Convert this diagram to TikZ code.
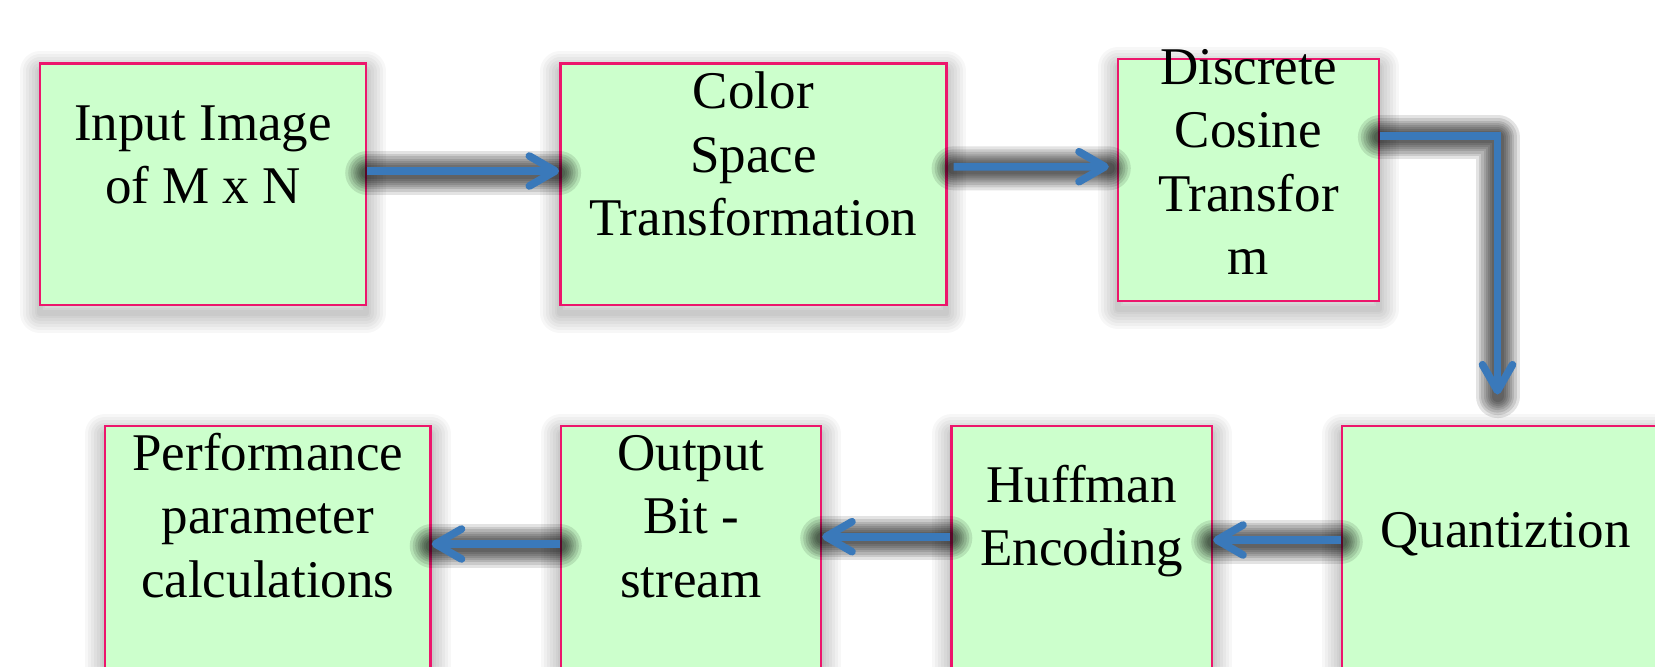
\documentclass[tikz,border=0pt]{standalone}
\usepackage{fontspec}
\setmainfont{Liberation Serif}
\usetikzlibrary{arrows.meta,calc}
\definecolor{boxfill}{RGB}{204,255,204}
\definecolor{boxline}{RGB}{236,22,108}
\definecolor{arrblue}{RGB}{58,121,186}
\tikzset{
  bsh/.style={preaction={draw=black, line width=#1, draw opacity=0.03,
    line join=round, transform canvas={yshift=-4pt}}},
  box/.style={draw=boxline, line width=1.2pt, fill=boxfill, inner sep=0pt,
    bsh=20pt, bsh=17pt, bsh=14pt, bsh=11pt, bsh=8pt, bsh=5pt, bsh=3pt},
  lbl/.style={anchor=north, inner sep=0pt, align=center,
    font=\fontsize{26.5pt}{31.75pt}\selectfont},
  shd/.style={preaction={draw=black, -, line width=#1, draw opacity=0.11,
    line cap=round, line join=round, transform canvas={yshift=-0.8pt}}},
  arr/.style={draw=arrblue, line width=3.8pt,
    -{Straight Barb[length=13pt,width=15pt,line cap=round,line join=round]},
    shd=22pt, shd=19pt, shd=16.5pt, shd=14pt, shd=12pt, shd=10pt, shd=8pt, shd=6pt}
}
\begin{document}
\begin{tikzpicture}[x=0.5pt,y=-0.5pt]
\useasboundingbox (0,0) rectangle (1655,666);
\clip (0,0) rectangle (1655,666);
\fill[white] (0,0) rectangle (1655,666);
% boxes
\node[box, minimum width=163pt,    minimum height=120.85pt] (b1) at (203,184.2) {};
\node[box, minimum width=193.05pt, minimum height=120.85pt] (b2) at (753.35,184.2) {};
\node[box, minimum width=130.35pt, minimum height=121pt]    (b3) at (1248.35,180) {};
\node[box, minimum width=163.5pt,  minimum height=125pt]    (b4) at (1505.5,550.7) {};
\node[box, minimum width=130.25pt, minimum height=125pt]    (b5) at (1081.75,550.7) {};
\node[box, minimum width=130pt,    minimum height=125pt]    (b6) at (691,550.7) {};
\node[box, minimum width=162.75pt, minimum height=125pt]    (b7) at (267.75,550.7) {};
% labels
\node[lbl] (t1) at (203,100)      {\rule{0pt}{20pt}Input Image\\of M x N};
\node[lbl] (t2) at (753.35,68.3)  {\rule{0pt}{20pt}Color\\Space\\Transformation};
\node[lbl] (t3) at (1248.35,44)   {\rule{0pt}{20pt}Discrete\\Cosine\\Transfor\\m};
\node[lbl] (t4) at (1505.5,506.7) {\rule{0pt}{20pt}Quantiztion};
\node[lbl] (t5) at (1081.75,461.7){\rule{0pt}{20pt}Huffman\\Encoding};
\node[lbl] (t6) at (691,430)      {\rule{0pt}{20pt}Output\\Bit -\\stream};
\node[lbl] (t7) at (267.75,430)   {\rule{0pt}{20pt}Performance\\parameter\\calculations};
% connectors
\draw[arr] ([yshift=6.6pt]b1.east) -- ([yshift=6.6pt]b2.west);
\draw[arr] ([xshift=3pt,yshift=8.75pt]b2.east) -- ([xshift=-4pt,yshift=6.65pt]b3.west);
\coordinate (q) at ($(b4.north)+(-8,-30)$);
\draw[arr] ([yshift=22.15pt]b3.east) -| (q);
\draw[arr] ([yshift=5.35pt]b4.west) -- ([yshift=5.35pt]b5.east);
\draw[arr] ([yshift=7pt]b5.west) -- ([yshift=7pt]b6.east);
\draw[arr] ([yshift=3.35pt]b6.west) -- ([yshift=3.35pt]b7.east);
\end{tikzpicture}
\end{document}
